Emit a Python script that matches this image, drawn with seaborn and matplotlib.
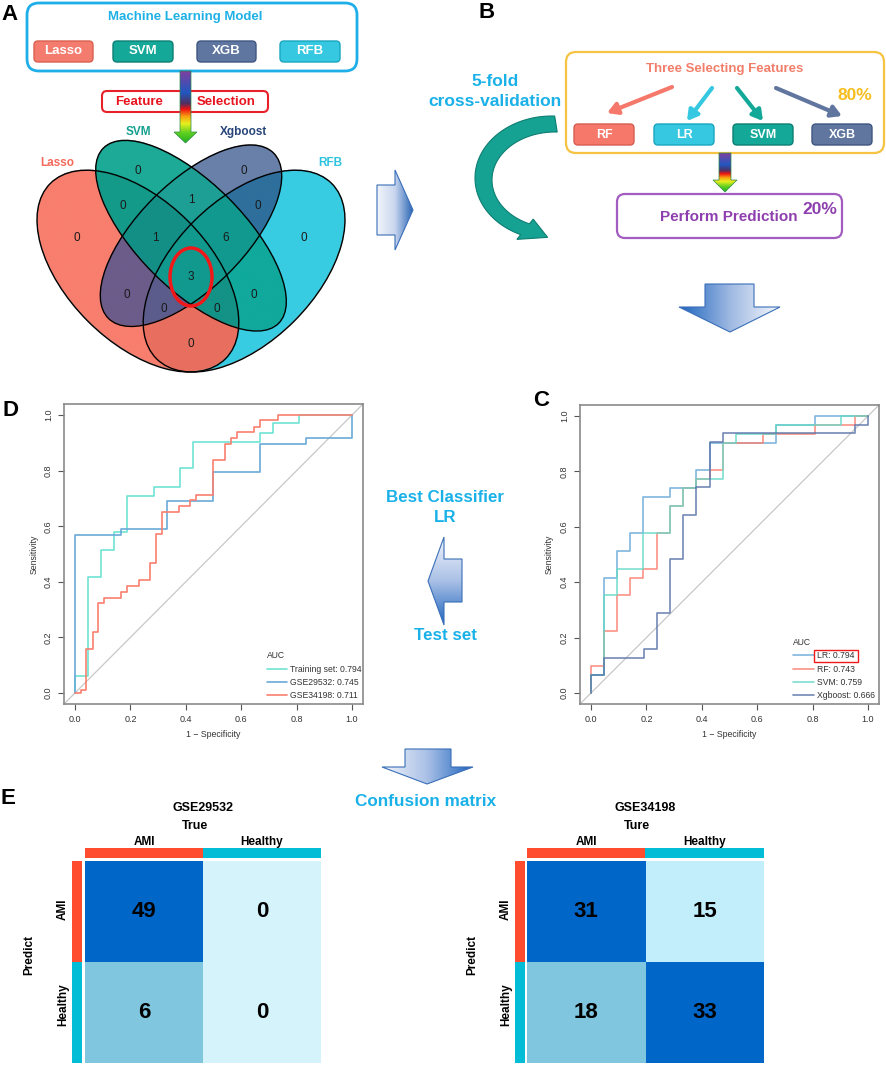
import numpy as np
import pandas as pd
import matplotlib
matplotlib.use('Agg')
import matplotlib.pyplot as plt
import seaborn as sns
from matplotlib.patches import FancyBboxPatch, Polygon, Ellipse, Rectangle
from matplotlib.colors import LinearSegmentedColormap, to_rgba
from matplotlib.lines import Line2D

# ---------------- DATA ----------------
ml_models = ['Lasso', 'SVM', 'XGB', 'RFB']
venn_sets = ['Lasso', 'SVM', 'Xgboost', 'RFB']
venn_keys = ['1000', '0100', '0010', '0001', '1100', '0110', '0011',
             '1110', '0111', '1111', '1010', '0101', '1011', '1101', '1001']
venn_counts = [0, 0, 0, 0, 0, 1, 0, 1, 6, 3, 0, 0, 0, 0, 0]
b_models = ['RF', 'LR', 'SVM', 'XGB']

# Panel D : test-set ROC curves (1 - specificity, sensitivity)
test_labels = ['Training set', 'GSE29532', 'GSE34198']
test_auc = [0.794, 0.745, 0.711]
train_fpr = [0, 0, 0.045, 0.093, 0.142, 0.189, 0.284, 0.380, 0.427, 0.667, 0.714, 0.809, 1.0]
train_tpr = [0, 0.06, 0.418, 0.515, 0.58, 0.71, 0.743, 0.808, 0.905, 0.937, 0.97, 1.0, 1.0]
g29_fpr = [0, 0, 0.167, 0.333, 0.5, 0.667, 0.833, 1.0]
g29_tpr = [0, 0.57, 0.589, 0.692, 0.795, 0.897, 0.919, 1.0]
g34_fpr = [0, 0.02, 0.04, 0.063, 0.084, 0.106, 0.167, 0.188, 0.23, 0.271, 0.291, 0.313,
           0.375, 0.415, 0.437, 0.5, 0.543, 0.563, 0.584, 0.647, 0.668, 0.732, 1.0]
g34_tpr = [0, 0.012, 0.159, 0.219, 0.322, 0.343, 0.364, 0.384, 0.406, 0.468, 0.571, 0.651,
           0.673, 0.693, 0.713, 0.838, 0.897, 0.919, 0.939, 0.959, 0.981, 1.0, 1.0]

# Panel C : cross-validation ROC curves
cv_labels = ['LR', 'RF', 'SVM', 'Xgboost']
cv_auc = [0.794, 0.743, 0.759, 0.666]
lr_fpr = [0, 0, 0.047, 0.093, 0.141, 0.189, 0.285, 0.38, 0.428, 0.667, 0.808, 1.0]
lr_tpr = [0, 0.065, 0.416, 0.513, 0.578, 0.709, 0.742, 0.806, 0.903, 0.968, 1.0, 1.0]
rf_fpr = [0, 0, 0.047, 0.093, 0.141, 0.189, 0.237, 0.285, 0.332, 0.38, 0.428, 0.477, 0.62, 0.808, 0.952, 1.0]
rf_tpr = [0, 0.097, 0.222, 0.355, 0.416, 0.447, 0.578, 0.676, 0.742, 0.773, 0.806, 0.903, 0.936, 0.968, 1.0, 1.0]
svm_fpr = [0, 0, 0.047, 0.093, 0.189, 0.285, 0.332, 0.38, 0.477, 0.523, 0.667, 0.904, 1.0]
svm_tpr = [0, 0.065, 0.355, 0.447, 0.578, 0.676, 0.742, 0.773, 0.903, 0.936, 0.968, 1.0, 1.0]
xgb_fpr = [0, 0, 0.047, 0.19, 0.237, 0.285, 0.332, 0.38, 0.428, 0.477, 0.952, 1.0]
xgb_tpr = [0, 0.065, 0.125, 0.16, 0.29, 0.484, 0.644, 0.745, 0.907, 0.939, 0.968, 1.0]

# Panel E : confusion matrices (rows = Predict, cols = True)
cm_classes = ['AMI', 'Healthy']
cm_gse29532 = [[49, 0], [6, 0]]
cm_gse34198 = [[31, 15], [18, 33]]

# ---------------- STYLE ----------------
sns.set_theme(style='white')
plt.rcParams['font.family'] = ['Liberation Sans', 'DejaVu Sans']

W, H = 886, 1065
fig = plt.figure(figsize=(W / 100, H / 100), dpi=100)
fig.patch.set_facecolor('white')


def fax(x0, y0, x1, y1):
    return fig.add_axes([x0 / W, 1 - y1 / H, (x1 - x0) / W, (y1 - y0) / H])


# ---------------- VENN (panel A) ----------------
axv = fax(14, 83.5, 368, 437.5)
ellipses = [(0.35, 0.47, 0.35, 0.20, 135), (0.50, 0.57, 0.35, 0.15, 135),
            (0.50, 0.57, 0.33, 0.15, 45), (0.65, 0.47, 0.35, 0.20, 45)]
region_colors = {'1000': '#F87E6E', '0100': '#1DAA97', '0010': '#6980A9', '0001': '#38CCE2',
                 '1100': '#149A88', '0110': '#1E9F95', '0011': '#2E6F9C', '1110': '#138F86',
                 '0111': '#12998F', '1111': '#11998E', '1010': '#6C5C8A', '0101': '#10A99C',
                 '1011': '#5C5C8C', '1101': '#139286', '1001': '#E86F5F'}
N = 900
g = np.linspace(0, 1, N)
uu, vv = np.meshgrid(g, g)
masks = []
for cx, cy, a, b, rot in ellipses:
    t = np.deg2rad(rot)
    dx, dy = uu - cx, vv - cy
    xr = dx * np.cos(t) + dy * np.sin(t)
    yr = -dx * np.sin(t) + dy * np.cos(t)
    masks.append((xr / a) ** 2 + (yr / b) ** 2 <= 1)
img = np.zeros((N, N, 4))
for key in venn_keys:
    m = np.ones((N, N), bool)
    for i, ch in enumerate(key):
        m &= masks[i] if ch == '1' else ~masks[i]
    img[m] = to_rgba(region_colors[key])
axv.imshow(img, origin='lower', extent=(0, 1, 0, 1), aspect='auto', interpolation='bilinear')
for cx, cy, a, b, rot in ellipses:
    axv.add_patch(Ellipse((cx, cy), 2 * a, 2 * b, angle=rot, fill=False, ec='black', lw=1.0))
axv.set_xlim(0, 1)
axv.set_ylim(0, 1)
axv.axis('off')


# ---------------- ROC panels ----------------
def roc_panel(box, curves, labels, aucs, colors, alpha, lw, anchor, ylab_x):
    ax = fax(*box)
    ax.plot([-0.2, 1.2], [-0.2, 1.2], color='#c8c8c8', lw=0.9, zorder=1)
    for (f, t), c in zip(curves, colors):
        ax.plot(f, t, drawstyle='steps-post', color=c, lw=lw, alpha=alpha, zorder=2)
    ax.set_xlim(-0.04, 1.04)
    ax.set_ylim(-0.04, 1.04)
    ticks = [0, 0.2, 0.4, 0.6, 0.8, 1.0]
    tl = [f'{v:.1f}' for v in ticks]
    ax.set_xticks(ticks)
    ax.set_xticklabels(tl)
    ax.set_yticks(ticks)
    ax.set_yticklabels(tl, rotation=90, va='center')
    ax.tick_params(direction='out', length=4, width=0.8, color='#555555', labelsize=6.5,
                   labelcolor='#333333', pad=4, bottom=True, left=True)
    for s in ax.spines.values():
        s.set_visible(True)
        s.set_color('#8a8a8a')
        s.set_linewidth(1.2)
    ax.grid(False)
    ax.text(0.5, -0.103, '1 \u2212 Specificity', transform=ax.transAxes, ha='center',
            va='center', fontsize=6.3, color='#333333')
    ax.text(ylab_x, 0.5, 'Sensitivity', transform=ax.transAxes, ha='center', va='center',
            rotation=90, fontsize=6.3, color='#333333')
    handles = [Line2D([], [], color=c, lw=lw, alpha=alpha) for c in colors]
    leg = ax.legend(handles, [f'{l}: {a:.3f}' for l, a in zip(labels, aucs)], title='AUC',
                    loc='lower right', bbox_to_anchor=anchor, frameon=False, fontsize=6.2,
                    title_fontsize=6.2, handlelength=2.4, handletextpad=0.35, labelspacing=0.5,
                    borderpad=0, borderaxespad=0, alignment='left')
    leg._legend_box.sep = 3.5
    for tx in leg.get_texts():
        tx.set_color('#333333')
    leg.get_title().set_color('#333333')
    return ax, leg


axD, legD = roc_panel((64, 404, 363, 704),
                      [(train_fpr, train_tpr), (g29_fpr, g29_tpr), (g34_fpr, g34_tpr)],
                      test_labels, test_auc, ['#6FE3D3', '#6AAAD8', '#FA7F70'], 1.0, 1.2,
                      (0.997, 0.012), -0.10)
axC, legC = roc_panel((580, 405, 879, 704),
                      [(lr_fpr, lr_tpr), (rf_fpr, rf_tpr), (svm_fpr, svm_tpr), (xgb_fpr, xgb_tpr)],
                      cv_labels, cv_auc, ['#6AAAD8', '#FA7F70', '#66D9C9', '#5A74A8'], 0.85, 1.2,
                      (0.987, 0.012), -0.104)


# ---------------- Confusion matrices ----------------
def conf_heat(box, data, nodes, vmin, vmax):
    ax = fax(*box)
    df = pd.DataFrame(data, index=cm_classes, columns=cm_classes)
    cmap = LinearSegmentedColormap.from_list('cm', nodes)
    sns.heatmap(df, ax=ax, cmap=cmap, vmin=vmin, vmax=vmax, annot=True, fmt='d', cbar=False,
                xticklabels=False, yticklabels=False, linewidths=0,
                annot_kws=dict(size=16, weight='bold', color='black'))
    ax.set_xlabel('')
    ax.set_ylabel('')
    return ax


conf_heat((85, 861, 321, 1063), cm_gse29532,
          [(0, '#D5F3FA'), (6 / 49, '#80C6DF'), (1, '#0066C8')], 0, 49)
conf_heat((527, 861, 764, 1063), cm_gse34198,
          [(0, '#C2EDFA'), (3 / 18, '#80C6DF'), (16 / 18, '#0066C8'), (1, '#0066C8')], 15, 33)

# ---------------- Overlay (diagrams / annotations) ----------------
ax0 = fig.add_axes([0, 0, 1, 1])
ax0.axis('off')


def rbox(x0, y0, x1, y1, fc, ec, lw, r, z=2):
    ax0.add_patch(FancyBboxPatch((x0, y0), x1 - x0, y1 - y0,
                                 boxstyle=f'round,pad=0,rounding_size={r}',
                                 fc=fc, ec=ec, lw=lw, zorder=z))


def txt(x, y, s, size, color='black', weight='bold', ha='center', va='center', z=6, **kw):
    ax0.text(x, y, s, fontsize=size, color=color, fontweight=weight, ha=ha, va=va, zorder=z, **kw)


def grad_poly(verts, colors, vertical, ec, lw=0.8, z=3):
    poly = Polygon(verts, closed=True, fc='none', ec=ec, lw=lw, zorder=z + 1)
    ax0.add_patch(poly)
    xs = [v[0] for v in verts]
    ys = [v[1] for v in verts]
    cmap = LinearSegmentedColormap.from_list('g', colors)
    arr = np.linspace(0, 1, 256)[:, None] if vertical else np.linspace(0, 1, 256)[None, :]
    im = ax0.imshow(arr, cmap=cmap, extent=(min(xs), max(xs), max(ys), min(ys)),
                    origin='upper', aspect='auto', zorder=z, interpolation='bilinear')
    im.set_clip_path(poly)


rainbow = [(0, '#8040A0'), (0.3, '#2158C0'), (0.45, '#502F60'), (0.53, '#F01212'),
           (0.63, '#F8A010'), (0.73, '#E8F020'), (0.86, '#60D020'), (1, '#20B020')]

# Panel A diagram
rbox(27, 3, 357, 71, 'white', '#1EAEE8', 2.0, 12)
txt(185, 17, 'Machine Learning Model', 9.5, '#1FB1E6')
btn_a = {'Lasso': (34, 93, '#F47C6E', '#D9604F'), 'SVM': (113, 173, '#13A898', '#0D7F73'),
         'XGB': (197, 256, '#5F76A0', '#3F5680'), 'RFB': (280, 340, '#36C8E0', '#1AA6C0')}
for name in ml_models:
    x0, x1, fc, ec = btn_a[name]
    rbox(x0, 41, x1, 62, fc, ec, 1.0, 4)
    txt((x0 + x1) / 2, 51.5, name, 9.5, 'white')
rbox(102, 91, 268, 112, 'white', '#E8202A', 1.5, 5)
txt(139, 102, 'Feature', 9.5, '#E8141E')
txt(226, 102, 'Selection', 9.5, '#E8141E')
grad_poly([(180, 71), (191, 71), (191, 132), (197, 132), (185.5, 143), (174, 132), (180, 132)],
          rainbow, True, '#2A8A4A', 0.5, z=5)
venn_label_style = {'Lasso': ((57, 163), '#F46A5A'), 'SVM': ((138, 132), '#14A08E'),
                    'Xgboost': ((244, 132), '#27457A'), 'RFB': ((330, 163), '#2EC3DE')}
for name in venn_sets:
    (x, y), c = venn_label_style[name]
    txt(x, y, name, 8.5, c)
region_pos = {'1000': (77, 238), '0100': (138, 171), '0010': (244, 171), '0001': (304, 238),
              '1100': (123, 206), '0110': (191, 200), '0011': (258, 206), '1110': (155, 238),
              '0111': (226, 238), '1111': (191, 277), '1010': (127, 295), '0101': (254, 295),
              '1011': (164, 309), '1101': (217, 309), '1001': (191, 344)}
for key, cnt in zip(venn_keys, venn_counts):
    x, y = region_pos[key]
    txt(x, y, str(cnt), 8.5, '#1a1a1a', weight='normal')
ax0.add_patch(Ellipse((191, 277), 42, 58, fill=False, ec='#F01818', lw=2.5, zorder=6))

# arrow A -> B
grad_poly([(377, 185), (395, 185), (395, 170), (413, 210), (395, 250), (395, 235), (377, 235)],
          ['#F2F5FB', '#C8D6EE', '#2A65B5'], False, '#3A6FB8', 0.8)

# Panel B diagram
rbox(566, 52, 884, 153, 'white', '#F6C343', 1.6, 10)
txt(725, 69, 'Three Selecting Features', 9.5, '#F27E6A')
txt(855, 96, '80%', 12.5, '#F5BE1E')
btn_b = {'RF': (574, 634, '#F6786B', '#D65E50'), 'LR': (654, 714, '#36C8E0', '#1AA6C0'),
         'SVM': (733, 793, '#13A898', '#0D7F73'), 'XGB': (812, 872, '#60769F', '#3F5680')}
arr_b = {'RF': ((672, 87), (607, 113)), 'LR': ((712, 88), (687, 121)),
         'SVM': ((737, 88), (763, 121)), 'XGB': ((776, 88), (842, 116))}
for name in b_models:
    x0, x1, fc, ec = btn_b[name]
    rbox(x0, 124, x1, 145, fc, ec, 1.0, 4)
    txt((x0 + x1) / 2, 134.5, name, 9, 'white')
    (sx, sy), (ex, ey) = arr_b[name]
    ax0.annotate('', xy=(ex, ey), xytext=(sx, sy), zorder=5,
                 arrowprops=dict(arrowstyle='-|>,head_width=0.35,head_length=0.6', lw=3,
                                 color=fc, shrinkA=0, shrinkB=0, mutation_scale=10))
grad_poly([(719, 153), (731, 153), (731, 180), (737, 180), (725, 192), (713, 180), (719, 180)],
          rainbow, True, '#2A8A4A', 0.5, z=5)
rbox(617, 194, 842, 238, 'white', '#A35CC0', 1.6, 8)
txt(729, 217, 'Perform Prediction', 11, '#8E3FAE')
txt(820, 209, '20%', 12.5, '#8E3FAE')
txt(495, 81, '5-fold', 12.5, '#19B1E8')
txt(495, 101, 'cross-validation', 12.5, '#19B1E8')

# curved teal arrow
t_out = np.deg2rad(np.linspace(88, 246, 90))
outer = np.c_[552 + 77 * np.cos(t_out), 178 - 62 * np.sin(t_out)]
inner = np.c_[555 + 63 * np.cos(t_out[::-1]), 180 - 48 * np.sin(t_out[::-1])]
po, pi = outer[-1], inner[0]
mid = (po + pi) / 2
tang = np.array([-77 * np.sin(t_out[-1]), -62 * np.cos(t_out[-1])])
tang /= np.linalg.norm(tang)
nrm = (po - pi) / np.linalg.norm(po - pi)
head = [mid + nrm * 13, mid + tang * 24, mid - nrm * 13]
ribbon = np.vstack([outer, head, inner])
ax0.add_patch(Polygon(ribbon, closed=True, fc='#16A293', ec='#0D7D72', lw=0.8, zorder=3))

# down arrow under B
grad_poly([(705, 284), (754, 284), (754, 307), (780, 307), (730, 332), (679, 307), (705, 307)],
          ['#1E64BE', '#9DB8E2', '#F6F8FC'], False, '#3A6FB8', 0.8)

# left arrow between D and C
grad_poly([(428, 581), (444, 537), (444, 559), (462, 559), (462, 602), (444, 602), (444, 625)],
          ['#F2F5FB', '#A9C0E6', '#1E64BE'], True, '#3A6FB8', 0.8)
txt(445, 497, 'Best Classifier', 12.2, '#19B1E8')
txt(445, 517, 'LR', 12.2, '#19B1E8')
txt(445, 636, 'Test set', 12.2, '#19B1E8')

# down arrow above confusion matrices
grad_poly([(405, 749), (451, 749), (451, 767), (473, 767), (427, 784), (382, 767), (405, 767)],
          ['#F2F5FB', '#A9C0E6', '#1E64BE'], False, '#3A6FB8', 0.8)
txt(426, 802, 'Confusion matrix', 12.3, '#19B1E8')

# Panel E annotations
red_c, cyan_c = '#FF4B2E', '#03BCD6'
for (hx0, hx1, lbx, rowx, predx, cx, title, tlab) in [
        (85, 321, 72, 63, 29, 203, 'GSE29532', 'True'),
        (527, 764, 515, 506, 472, 645, 'GSE34198', 'Ture')]:
    mx = (hx0 + hx1) / 2
    for j, (cls, col) in enumerate(zip(cm_classes, [red_c, cyan_c])):
        ax0.add_patch(Rectangle((hx0 + j * (mx - hx0), 848), mx - hx0, 10, fc=col, ec='none', zorder=2))
        ax0.add_patch(Rectangle((lbx, 861 + j * 101), 10, 101, fc=col, ec='none', zorder=2))
        txt(hx0 + (j + 0.5) * (mx - hx0), 842, cls, 8.5)
    txt(rowx, 909, cm_classes[0], 8.5, rotation=90)
    txt(rowx, 1005, cm_classes[1], 8.5, rotation=90)
    txt(predx, 955, 'Predict', 8.5, rotation=90)
    txt(cx, 808, title, 9)
    txt(cx - 8, 826, tlab, 9)

# panel letters
for s, (x, y) in {'A': (10, 14), 'B': (487, 12), 'D': (11, 411), 'C': (541, 400), 'E': (8, 799)}.items():
    txt(x, y, s, 16, 'black')

ax0.set_xlim(0, W)
ax0.set_ylim(H, 0)

# red box around the best classifier legend entry
fig.canvas.draw()
bb = legC.get_texts()[0].get_window_extent()
inv = ax0.transData.inverted()
(bx0, by0), (bx1, by1) = inv.transform([[bb.x0, bb.y0], [bb.x1, bb.y1]])
ax0.add_patch(Rectangle((bx0 - 3, min(by0, by1) - 1.5), bx1 - bx0 + 6, abs(by1 - by0) + 3,
                        fill=False, ec='#F01818', lw=1.0, zorder=7))
ax0.set_xlim(0, W)
ax0.set_ylim(H, 0)

fig.savefig('out.png', dpi=100)
